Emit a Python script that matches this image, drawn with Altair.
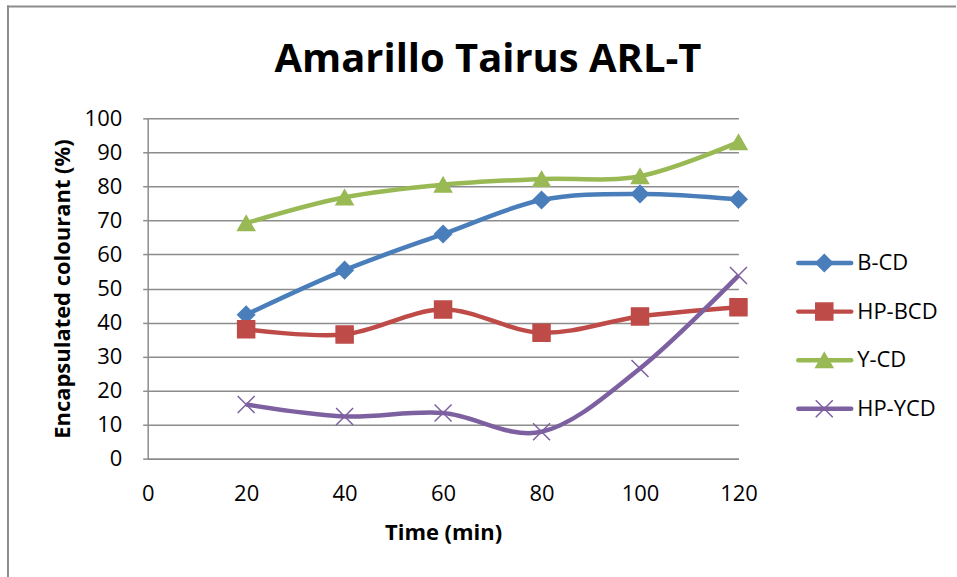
import altair as alt
import pandas as pd

# Encapsulation of the dye over time for each cyclodextrin
times = [20, 40, 60, 80, 100, 120]
series = ["B-CD", "HP-BCD", "Y-CD", "HP-YCD"]
b_cd = [42.3, 55.4, 66.0, 76.0, 77.8, 76.2]
hp_bcd = [38.0, 36.5, 43.8, 37.0, 41.8, 44.5]
y_cd = [69.2, 76.8, 80.5, 82.2, 83.0, 93.0]
hp_ycd = [15.9, 12.4, 13.4, 7.9, 26.5, 53.8]

colors = ["#4A7EBB", "#BE4B48", "#98B954", "#7D60A0"]
shapes = ["diamond", "square", "triangle-up", "M-1,-1L1,1M1,-1L-1,1"]
grey = "#8C8C8C"
font = "Open Sans"

rows = []
for name, vals in zip(series, [b_cd, hp_bcd, y_cd, hp_ycd]):
    for t, v in zip(times, vals):
        rows.append({"time": t, "value": v, "series": name})
df = pd.DataFrame(rows)
legend_df = pd.DataFrame({"series": series})

color_scale = alt.Scale(domain=series, range=colors)
shape_scale = alt.Scale(domain=series, range=shapes)

x_enc = alt.X(
    "time:Q",
    scale=alt.Scale(domain=[0, 120], nice=False),
    axis=alt.Axis(
        values=[0, 20, 40, 60, 80, 100, 120],
        title="Time (min)",
        grid=False,
        ticks=False,
        labelFlush=False,
        labelPadding=25,
        titlePadding=18,
        domainColor=grey,
        domainWidth=1.5,
    ),
)
y_enc = alt.Y(
    "value:Q",
    scale=alt.Scale(domain=[0, 100], nice=False),
    axis=alt.Axis(
        values=list(range(0, 101, 10)),
        title="Encapsulated colourant (%)",
        grid=True,
        gridColor=grey,
        gridWidth=1.5,
        ticks=True,
        tickSize=5,
        tickColor=grey,
        tickWidth=1.5,
        labelFlush=False,
        labelPadding=21,
        titlePadding=10,
        domainColor=grey,
        domainWidth=1.5,
    ),
)

base = alt.Chart(df).encode(
    x=x_enc,
    y=y_enc,
    color=alt.Color("series:N", scale=color_scale, legend=None),
)
lines = base.mark_line(interpolate="cardinal", tension=0, strokeWidth=4.5)
points = base.mark_point(filled=True, opacity=1, strokeWidth=1.5, size=290).encode(
    stroke=alt.Stroke("series:N", scale=color_scale, legend=None),
    shape=alt.Shape("series:N", scale=shape_scale, legend=None),
)
plot = alt.layer(lines, points)

# Legend drawn beside the plot: one row per series
leg_y = alt.Y(
    "series:N",
    scale=alt.Scale(type="point", domain=series, range=[145, 291], padding=0),
    axis=None,
)
leg_line = alt.Chart(legend_df).mark_rule(strokeWidth=4.5, strokeCap="round").encode(
    x=alt.value(652), x2=alt.value(705), y=leg_y,
    color=alt.Color("series:N", scale=color_scale, legend=None),
)
leg_pts = alt.Chart(legend_df).mark_point(filled=True, opacity=1, strokeWidth=1.5, size=290).encode(
    x=alt.value(678), y=leg_y,
    color=alt.Color("series:N", scale=color_scale, legend=None),
    stroke=alt.Stroke("series:N", scale=color_scale, legend=None),
    shape=alt.Shape("series:N", scale=shape_scale, legend=None),
)
leg_text = alt.Chart(legend_df).mark_text(
    align="left", baseline="middle", fontSize=22, font=font, color="black"
).encode(x=alt.value(711), y=leg_y, text="series:N")
legend = alt.layer(leg_line, leg_pts, leg_text)

# Outer chart frame: top and left edges
one = alt.Data(values=[{}])
frame_top = alt.Chart(one).mark_rule(stroke=grey, strokeWidth=2).encode(
    x=alt.value(-141), x2=alt.value(810), y=alt.value(-112)
)
frame_left = alt.Chart(one).mark_rule(stroke=grey, strokeWidth=2).encode(
    x=alt.value(-140), y=alt.value(-113), y2=alt.value(460)
)

chart = alt.layer(frame_top, frame_left, plot, legend).resolve_scale(y="independent").properties(
    width=592,
    height=341,
    padding={"left": 6, "top": 4, "right": 0, "bottom": 0},
    title=alt.TitleParams(
        "Amarillo Tairus ARL-T",
        font=font,
        fontSize=40,
        fontWeight="bold",
        color="black",
        anchor="middle",
        frame="group",
        dx=45,
        offset=-76,
    ),
).configure(background="white").configure_view(stroke=None).configure_axis(
    labelFont=font,
    labelFontSize=22,
    labelColor="black",
    titleFont=font,
    titleFontSize=22,
    titleFontWeight="bold",
    titleColor="black",
)

chart.save("out.html", embed_options={"renderer": "svg", "actions": False})
